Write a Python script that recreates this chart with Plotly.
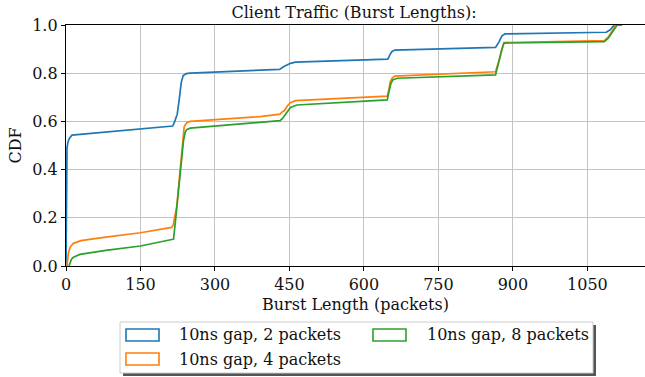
import plotly.graph_objects as go

# ---------------- data ----------------
names = ["10ns gap, 2 packets", "10ns gap, 4 packets", "10ns gap, 8 packets"]
colors = ["#1f77b4", "#ff7f0e", "#2ca02c"]

blue_x = [0, 1, 2, 4, 7, 12, 50, 150, 215, 219, 224, 228, 232, 236, 242, 250,
          430, 438, 446, 452, 462, 648, 652, 656, 662, 865, 872, 878, 884,
          1088, 1096, 1104, 1120]
blue_y = [0, 0.30, 0.49, 0.515, 0.53, 0.543, 0.55, 0.568, 0.581, 0.60, 0.63,
          0.69, 0.76, 0.79, 0.798, 0.80, 0.816, 0.827, 0.836, 0.841, 0.846,
          0.858, 0.875, 0.889, 0.896, 0.907, 0.93, 0.955, 0.963, 0.970, 0.98,
          1.0, 1.0]

orange_x = [2, 3, 4.5, 7, 10, 15, 30, 80, 150, 213, 216, 223, 230, 235, 238,
            243, 250, 391, 431, 436, 440, 446, 452, 462, 647, 650, 653, 657,
            662, 865, 869, 873, 878, 882, 1084, 1092, 1100, 1107, 1120]
orange_y = [0, 0.03, 0.05, 0.07, 0.083, 0.094, 0.105, 0.12, 0.138, 0.16, 0.17,
            0.246, 0.397, 0.52, 0.578, 0.595, 0.60, 0.62, 0.63, 0.64, 0.645,
            0.665, 0.678, 0.686, 0.705, 0.73, 0.765, 0.78, 0.788, 0.806, 0.83,
            0.86, 0.90, 0.927, 0.935, 0.95, 0.975, 1.0, 1.0]

green_x = [6, 8, 11, 15, 28, 80, 150, 213, 216.5, 220, 230, 236.6, 240, 243,
           250, 391, 431, 436, 441, 446, 452, 465, 647, 650, 654, 658, 667,
           865, 869, 873, 878, 882, 1084, 1092, 1100, 1110, 1120]
green_y = [0, 0.015, 0.028, 0.036, 0.048, 0.065, 0.083, 0.11, 0.111, 0.178,
           0.384, 0.52, 0.555, 0.566, 0.572, 0.595, 0.603, 0.612, 0.627, 0.645,
           0.658, 0.668, 0.689, 0.72, 0.755, 0.772, 0.779, 0.793, 0.83, 0.86,
           0.90, 0.925, 0.931, 0.945, 0.97, 1.0, 1.0]

series_x = [blue_x, orange_x, green_x]
series_y = [blue_y, orange_y, green_y]

x_ticks = [0, 150, 300, 450, 600, 750, 900, 1050]
y_ticks = [0.0, 0.2, 0.4, 0.6, 0.8, 1.0]

title = "Client Traffic (Burst Lengths):"
x_title = "Burst Length (packets)"
y_title = "CDF"

FONT = "DejaVu Serif"
TXT = "#111111"

# ---------------- geometry (pixels) ----------------
W, H = 645, 377
L, R, T, B = 66, 0, 25, 111
PW, PH = W - L - R, H - T - B


def px(xp):
    return (xp - L) / PW


def py(yp):
    return (H - B - yp) / PH


# ---------------- figure ----------------
fig = go.Figure()
for xs, ys, c, n in zip(series_x, series_y, colors, names):
    fig.add_trace(go.Scatter(x=xs, y=ys, mode="lines", name=n,
                             line=dict(color=c, width=1.7), showlegend=False,
                             hoverinfo="skip"))

# ---- legend box (matplotlib style: 2 columns, shadow, outlined patches) ----
shapes = []
annotations = []
box = (120, 322, 593, 373)
shapes.append(dict(type="rect", xref="paper", yref="paper", layer="above",
                   x0=px(box[0] + 3), x1=px(box[2] + 3),
                   y0=py(box[1] + 3), y1=py(box[3] + 3),
                   line=dict(width=0), fillcolor="#555555"))
shapes.append(dict(type="rect", xref="paper", yref="paper", layer="above",
                   x0=px(box[0]), x1=px(box[2]), y0=py(box[1]), y1=py(box[3]),
                   line=dict(color="#cccccc", width=1), fillcolor="white"))
# column / row slots: (patch left x, text left x, row center y)
slots = [(126, 177, 335), (126, 177, 359), (373, 425, 335)]
for (pl, tl, cy), c, n in zip(slots, colors, names):
    shapes.append(dict(type="rect", xref="paper", yref="paper", layer="above",
                       x0=px(pl), x1=px(pl + 33), y0=py(cy - 6), y1=py(cy + 6),
                       line=dict(color=c, width=1.6),
                       fillcolor="rgba(0,0,0,0)"))
    annotations.append(dict(text=n, xref="paper", yref="paper", x=px(tl),
                            y=py(cy), xanchor="left", yanchor="middle",
                            showarrow=False,
                            font=dict(family=FONT, size=16, color=TXT)))

fig.update_layout(
    width=W, height=H,
    margin=dict(l=L, r=R, t=T, b=B, autoexpand=False),
    paper_bgcolor="white", plot_bgcolor="white",
    font=dict(family=FONT, size=16, color=TXT),
    title=dict(text=title, x=px(354), xref="paper", xanchor="center",
               y=1 - 12 / H, yanchor="middle",
               font=dict(family=FONT, size=16, color=TXT)),
    showlegend=False,
    hovermode=False,
    shapes=shapes,
    annotations=annotations,
)
fig.update_xaxes(range=[0, 1166], tickvals=x_ticks, ticks="outside", ticklen=4,
                 tickcolor="black", showline=True, linecolor="black",
                 linewidth=1.2, mirror=True, showgrid=True, gridcolor="#c4c4c4",
                 gridwidth=1, zeroline=False, automargin=False,
                 tickfont=dict(family=FONT, size=16, color=TXT),
                 title=dict(text=x_title, standoff=5,
                            font=dict(family=FONT, size=16, color=TXT)))
fig.update_yaxes(range=[0, 1.0], tickvals=y_ticks, tickformat=".1f",
                 ticks="outside", ticklen=4, tickcolor="black", showline=True,
                 linecolor="black", linewidth=1.2, showgrid=True,
                 gridcolor="#c4c4c4", gridwidth=1, zeroline=False,
                 automargin=False,
                 tickfont=dict(family=FONT, size=16, color=TXT),
                 title=dict(text=y_title, standoff=6,
                            font=dict(family=FONT, size=16, color=TXT)))

fig.write_html("out.html",
               config={"displayModeBar": False, "staticPlot": True},
               post_script="document.body.style.margin='0';"
                           "document.body.style.overflow='hidden';")
